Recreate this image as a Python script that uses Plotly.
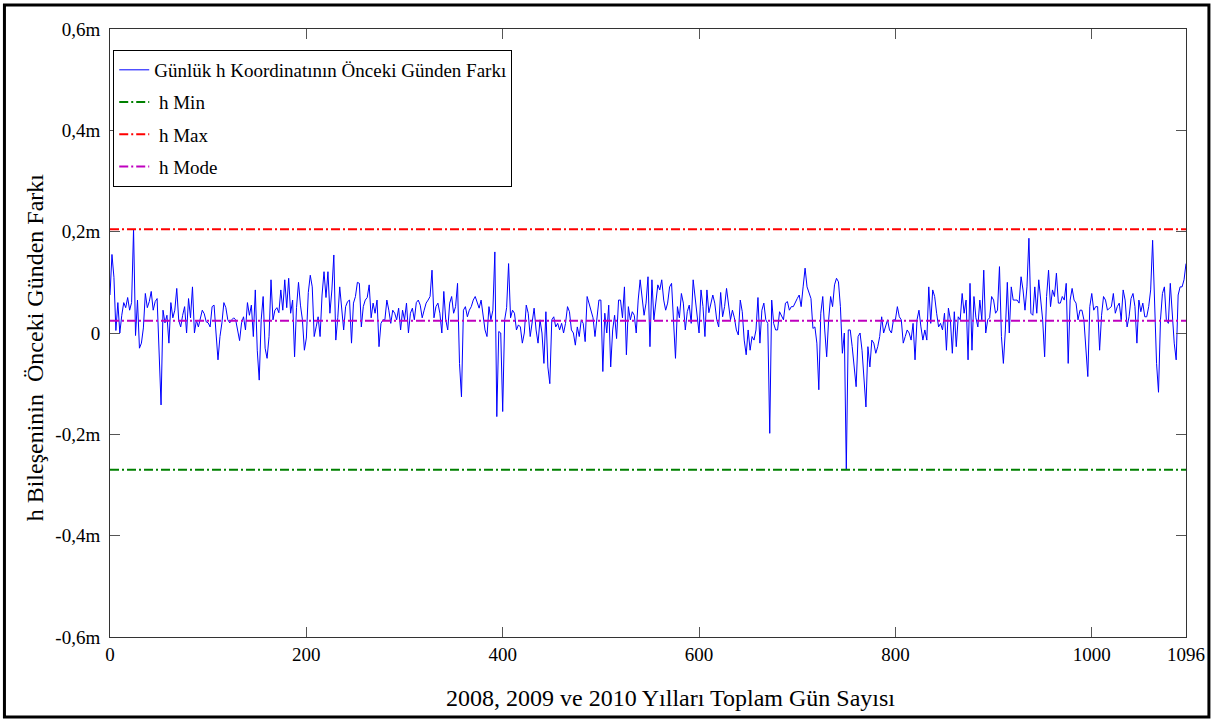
import numpy as np
import plotly.graph_objects as go

# Daily change of the h coordinate (m), sampled every 2 days over 2008-2010
day_step = 2

dh_part1 = [  # days 0-218
    0.075, 0.155, 0.110, 0.005, 0.060, 0.000, 0.035, 0.060, 0.050, 0.070,
    0.045, 0.060, 0.205, -0.005, 0.065, -0.030, -0.020, 0.010, 0.078, 0.050,
    0.062, 0.082, 0.045, 0.062, 0.068, -0.060, -0.142, 0.045, 0.020, 0.035,
    -0.020, 0.060, 0.030, 0.045, 0.088, 0.025, 0.012, 0.035, 0.052, 0.000,
    0.068, 0.030, 0.091, 0.000, 0.025, 0.012, 0.032, 0.045, 0.038, 0.022,
    0.020, 0.012, 0.052, 0.055, 0.000, -0.053, -0.007, 0.020, 0.060, 0.050,
    0.026, 0.020, 0.026, 0.030, 0.026, 0.006, -0.015, 0.020, 0.032, 0.006,
    0.060, 0.035, 0.055, -0.007, 0.085, -0.034, -0.093, 0.026, 0.072, -0.030,
    -0.050, -0.007, 0.105, 0.026, 0.045, 0.050, 0.040, 0.085, 0.045, 0.105,
    0.050, 0.108, 0.039, 0.065, -0.047, 0.050, 0.100, 0.055, 0.026, -0.034,
    -0.010, 0.080, 0.114, 0.091, -0.007, 0.012, 0.032, -0.007, 0.075, 0.121,
]

dh_part2 = [  # days 220-438
    0.070, 0.121, 0.039, 0.085, 0.154, -0.014, 0.030, 0.091, 0.039, 0.006,
    0.052, 0.062, 0.065, -0.020, 0.059, 0.072, 0.100, 0.098, 0.012, 0.052,
    0.065, 0.070, 0.095, 0.030, 0.059, 0.039, 0.065, -0.027, 0.019, 0.026,
    0.026, 0.065, 0.045, 0.019, 0.045, 0.039, 0.026, 0.049, 0.006, 0.045,
    0.026, 0.059, 0.000, 0.039, 0.049, 0.026, 0.060, 0.065, 0.055, 0.030,
    0.045, 0.059, 0.065, 0.072, 0.124, 0.030, 0.052, 0.059, 0.039, 0.000,
    0.082, 0.026, 0.006, 0.059, 0.072, 0.039, 0.052, 0.098, -0.060, -0.126,
    0.045, 0.052, 0.032, 0.045, 0.052, 0.065, 0.072, 0.059, 0.049, 0.065,
    0.039, 0.006, -0.007, 0.052, 0.026, 0.045, 0.160, -0.165, 0.003, 0.000,
    -0.155, 0.026, 0.050, 0.137, 0.030, 0.045, 0.039, 0.006, 0.016, 0.012,
    -0.020, 0.000, 0.055, 0.039, -0.007, 0.026, 0.049, 0.006, -0.020, 0.026,
]

dh_part3 = [  # days 440-658
    0.000, -0.060, 0.042, -0.067, -0.100, 0.026, 0.032, 0.012, 0.019, 0.006,
    0.019, 0.000, 0.019, 0.052, 0.042, 0.006, 0.000, -0.024, 0.012, -0.007,
    0.026, 0.019, -0.017, 0.072, 0.059, 0.045, 0.030, -0.007, 0.035, 0.065,
    0.065, -0.076, 0.039, 0.000, 0.055, -0.067, 0.006, 0.035, -0.011, 0.065,
    0.065, 0.030, 0.091, -0.043, 0.052, 0.026, 0.042, 0.035, 0.000, 0.065,
    0.105, 0.065, 0.035, 0.059, 0.111, -0.027, 0.105, 0.026, 0.055, 0.095,
    0.085, 0.105, 0.065, 0.045, 0.059, 0.091, 0.098, 0.026, -0.050, 0.052,
    0.030, 0.078, 0.059, 0.006, 0.042, 0.055, 0.019, 0.105, 0.072, 0.030,
    0.000, 0.085, 0.052, -0.007, 0.085, 0.040, 0.059, 0.075, 0.059, 0.026,
    0.012, 0.080, 0.032, 0.052, 0.088, 0.052, 0.026, 0.045, 0.030, 0.006,
    -0.004, 0.065, 0.042, -0.014, -0.043, 0.006, -0.034, -0.007, -0.014, 0.006,
]

dh_part4 = [  # days 660-878
    0.070, -0.020, 0.045, 0.059, 0.026, 0.019, -0.198, 0.065, 0.019, 0.006,
    0.006, 0.042, 0.035, 0.026, 0.059, 0.062, 0.045, 0.052, 0.052, 0.062,
    0.068, 0.075, 0.052, 0.091, 0.128, 0.091, 0.078, 0.068, 0.009, 0.012,
    -0.020, -0.112, 0.039, 0.072, 0.006, -0.047, 0.026, 0.072, 0.052, 0.095,
    0.108, 0.101, 0.052, -0.040, 0.000, -0.270, 0.006, 0.006, -0.027, -0.073,
    -0.106, -0.007, 0.000, -0.034, -0.086, -0.146, -0.027, -0.067, -0.014, -0.020,
    -0.040, -0.027, -0.007, 0.032, 0.000, 0.012, 0.026, 0.006, 0.000, 0.026,
    0.026, 0.052, 0.032, 0.026, -0.020, -0.007, 0.006, 0.000, -0.014, 0.019,
    -0.053, 0.026, 0.045, 0.012, -0.014, 0.006, -0.014, 0.091, 0.019, 0.085,
    0.072, 0.039, 0.012, 0.019, 0.006, 0.039, -0.034, 0.049, 0.026, -0.040,
    0.042, -0.027, 0.032, 0.026, 0.078, 0.039, 0.065, -0.053, 0.098, -0.034,
]

dh_part5 = [  # days 880-1096
    0.072, 0.030, 0.012, 0.065, 0.026, 0.124, 0.000, 0.026, 0.030, 0.072,
    0.065, 0.039, 0.045, 0.131, -0.007, -0.060, 0.006, 0.100, 0.000, 0.091,
    0.065, 0.065, 0.065, 0.059, 0.111, 0.085, 0.045, 0.091, 0.187, 0.039,
    0.035, 0.091, 0.039, 0.105, 0.065, 0.026, -0.047, 0.072, 0.124, 0.052,
    0.085, 0.072, 0.118, 0.059, 0.059, 0.072, 0.065, 0.098, -0.060, 0.065,
    0.088, 0.065, 0.059, 0.026, 0.045, 0.045, 0.026, -0.027, -0.086, 0.052,
    0.078, 0.045, 0.052, 0.052, -0.034, 0.035, 0.072, 0.065, 0.045, 0.049,
    0.052, 0.078, 0.039, 0.052, 0.059, 0.026, 0.085, 0.065, 0.012, 0.032,
    0.068, 0.078, 0.052, -0.020, 0.065, 0.042, 0.059, 0.032, 0.032, 0.052,
    0.085, 0.183, 0.035, -0.060, -0.117, 0.026, 0.078, 0.091, 0.026, 0.019,
    0.098, 0.039, -0.020, -0.053, 0.075, 0.091, 0.091, 0.105, 0.137,
]

# Reference levels (m)
h_min = -0.270
h_max = 0.205
h_mode = 0.024

x_tick_vals = [0, 200, 400, 600, 800, 1000, 1096]
y_tick_vals = [-0.6, -0.4, -0.2, 0.0, 0.2, 0.4, 0.6]
y_tick_text = ["-0,6m", "-0,4m", "-0,2m", "0", "0,2m", "0,4m", "0,6m"]

series_name = "Günlük h Koordinatının Önceki Günden Farkı"
level_names = ["\u00a0h Min", "\u00a0h Max", "\u00a0h Mode"]
x_title = "2008, 2009 ve 2010 Yılları Toplam Gün Sayısı"
y_title = "h Bileşeninin  Önceki Günden Farkı"

dh = np.concatenate([dh_part1, dh_part2, dh_part3, dh_part4, dh_part5])
days = np.arange(len(dh)) * day_step
x_span = [0, days[-1]]

FONT = "Liberation Serif, Times New Roman, serif"
dashdot = "9px,3px,2px,3px"

fig = go.Figure()
fig.add_trace(go.Scatter(
    x=days, y=dh, mode="lines", name=series_name,
    line=dict(color="#0000ff", width=1), legendgroup="g1",
))
for name, level, color, grp in zip(
    level_names, [h_min, h_max, h_mode],
    ["#008000", "#ff0000", "#bf00bf"], ["g2", "g3", "g4"],
):
    fig.add_trace(go.Scatter(
        x=x_span, y=[level, level], mode="lines", name=name,
        line=dict(color=color, width=2, dash=dashdot), legendgroup=grp,
    ))

axis_common = dict(
    showgrid=False, zeroline=False, ticks="inside", ticklen=10,
    tickwidth=1, tickcolor="#555555", showline=True, linecolor="#333333",
    linewidth=1, mirror="ticks",
    tickfont=dict(family=FONT, size=19, color="black"),
)

fig.update_layout(
    width=1217, height=721,
    margin=dict(l=110, r=27, t=29, b=84),
    paper_bgcolor="white", plot_bgcolor="white",
    font=dict(family=FONT, size=19, color="black"),
    xaxis=dict(range=[0, 1096], tickvals=x_tick_vals, **axis_common),
    yaxis=dict(range=[-0.6, 0.6], tickvals=y_tick_vals, ticktext=y_tick_text,
               ticklabelstandoff=5, **axis_common),
    legend=dict(
        x=0.003, y=0.9655, xanchor="left", yanchor="top",
        bgcolor="white", bordercolor="black", borderwidth=1,
        font=dict(family=FONT, size=19, color="black"),
        tracegroupgap=4.5, itemwidth=30,
    ),
    showlegend=True,
    annotations=[
        dict(text=x_title, xref="paper", yref="paper", x=0.5213, y=-0.1003,
             xanchor="center", yanchor="middle", showarrow=False,
             font=dict(family=FONT, size=24, color="black")),
        dict(text=y_title, xref="paper", yref="paper", x=-0.0694, y=0.477,
             xanchor="center", yanchor="middle", showarrow=False,
             textangle=-90, font=dict(family=FONT, size=24, color="black")),
    ],
    shapes=[
        dict(type="rect", xref="paper", yref="paper",
             x0=-0.0981, x1=1.0213, y0=-0.1316, y1=1.0395,
             line=dict(color="black", width=3), fillcolor="rgba(0,0,0,0)",
             layer="above"),
    ],
)

fig.write_html("out.html")
